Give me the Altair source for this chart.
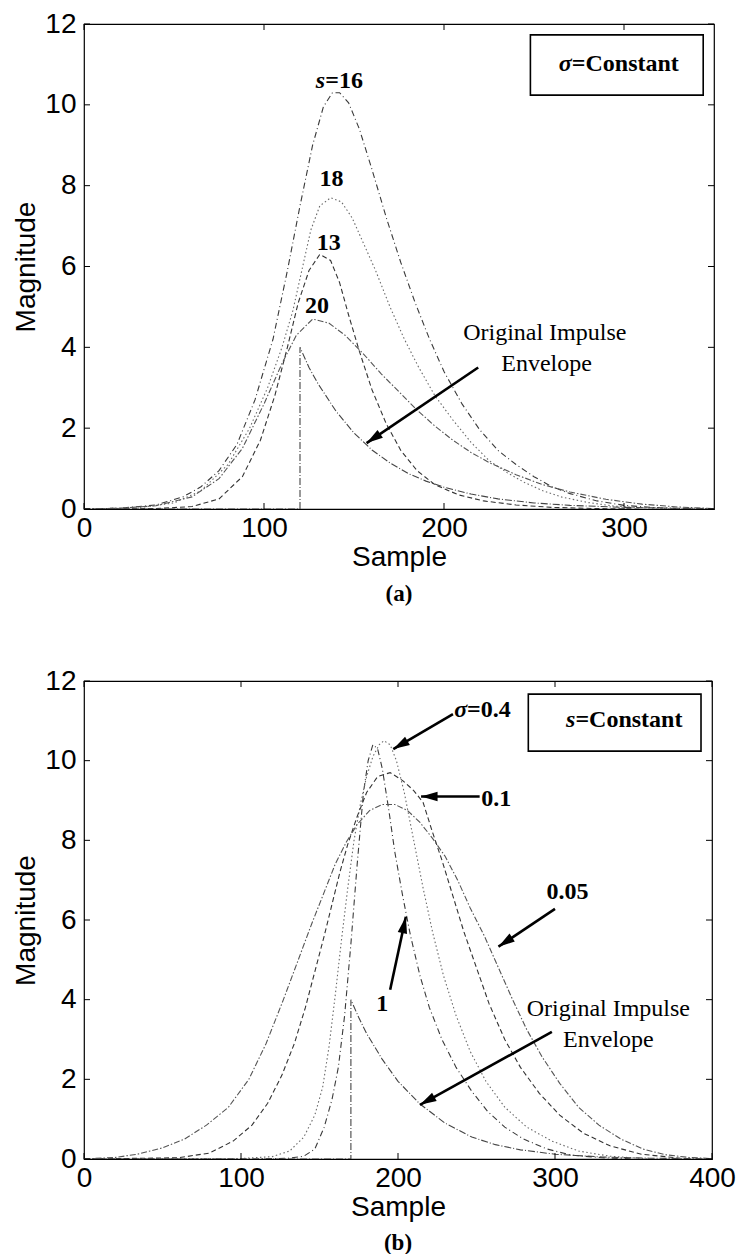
import math
import altair as alt
import pandas as pd

# ---------------- panel (a): sigma constant, scale s varies ----------------
a_s16_x = [0, 20, 40, 55, 65, 75, 85, 95, 105, 113, 120, 127, 133, 138, 142, 147, 153, 160, 168, 176,
           184, 192, 200, 210, 220, 230, 240, 250, 260, 270, 285, 300, 315, 330, 350]
a_s16_y = [0, 0.02, 0.1, 0.3, 0.55, 0.95, 1.6, 2.7, 4.2, 5.9, 7.5, 9.0, 9.95, 10.3, 10.3, 10.05, 9.4, 8.4, 7.2, 6.1,
           5.1, 4.2, 3.4, 2.6, 1.95, 1.45, 1.1, 0.8, 0.55, 0.38, 0.2, 0.09, 0.04, 0.01, 0]

a_s18_x = [0, 30, 50, 65, 80, 92, 102, 110, 116, 121, 126, 131, 137, 143, 149, 155, 162, 170, 178, 186,
           195, 205, 215, 225, 235, 245, 255, 265, 280, 295, 310, 330]
a_s18_y = [0, 0.03, 0.15, 0.45, 1.1, 2.0, 3.0, 4.0, 4.9, 5.9, 6.9, 7.5, 7.7, 7.6, 7.2, 6.6, 5.9, 5.0, 4.2, 3.5,
           2.8, 2.2, 1.65, 1.2, 0.9, 0.65, 0.45, 0.3, 0.16, 0.07, 0.03, 0]

a_s13_x = [0, 40, 60, 75, 88, 98, 106, 113, 119, 125, 131, 137, 142, 147, 153, 160, 168, 176, 185, 195,
           208, 222, 240, 260, 285, 310]
a_s13_y = [0, 0.01, 0.06, 0.25, 0.8, 1.7, 2.8, 4.0, 5.1, 5.9, 6.3, 6.15, 5.6, 4.8, 3.9, 2.95, 2.1, 1.45, 0.95, 0.6,
           0.35, 0.2, 0.1, 0.04, 0.01, 0]

a_s20_x = [0, 20, 40, 60, 75, 88, 100, 110, 118, 127, 136, 145, 155, 165, 175, 185, 195, 205, 215, 225,
           240, 255, 270, 290, 310, 330, 350]
a_s20_y = [0, 0.02, 0.08, 0.3, 0.75, 1.5, 2.6, 3.6, 4.3, 4.7, 4.6, 4.3, 3.85, 3.35, 2.9, 2.45, 2.05, 1.7, 1.4, 1.15,
           0.85, 0.6, 0.42, 0.24, 0.12, 0.05, 0.01]

a_env_x = [0, 120, 120, 125, 130, 140, 150, 160, 170, 180, 190, 200, 215, 230, 250, 270, 300, 330, 350]
a_env_y = [0, 0, 4.0, 3.5, 3.1, 2.42, 1.88, 1.46, 1.14, 0.88, 0.69, 0.54, 0.37, 0.25, 0.15, 0.09, 0.04, 0.02, 0.01]

# ---------------- panel (b): s constant, sigma varies ----------------
b_g1_x = [0, 110, 130, 140, 147, 153, 158, 162, 166, 170, 174, 178, 181, 184, 187, 190, 194, 198, 203, 208,
          214, 220, 228, 237, 247, 257, 268, 280, 295, 310, 330, 350]
b_g1_y = [0, 0, 0.02, 0.07, 0.25, 0.8, 1.5, 2.3, 3.6, 5.4, 7.4, 9.2, 10.0, 10.4, 10.3, 9.8, 8.8, 7.7, 6.6, 5.6,
          4.6, 3.8, 3.0, 2.3, 1.7, 1.2, 0.8, 0.5, 0.25, 0.1, 0.03, 0]

b_g04_x = [0, 100, 120, 131, 140, 147, 152, 156, 160, 164, 168, 172, 176, 180, 184, 188, 191, 195, 199, 204,
           210, 216, 222, 229, 237, 246, 256, 268, 282, 298, 315, 335, 360]
b_g04_y = [0, 0.01, 0.06, 0.2, 0.55, 1.1, 1.8, 2.8, 4.1, 5.5, 6.8, 8.0, 8.9, 9.6, 10.1, 10.4, 10.5, 10.4, 10.0, 9.2,
           8.0, 6.8, 5.7, 4.6, 3.6, 2.7, 1.95, 1.3, 0.8, 0.45, 0.2, 0.07, 0]

b_g01_x = [0, 60, 80, 95, 107, 117, 126, 134, 141, 147, 153, 158, 163, 168, 174, 180, 187, 195, 203, 210,
           216, 222, 228, 235, 242, 250, 258, 268, 278, 290, 303, 318, 335, 355, 380]
b_g01_y = [0, 0.03, 0.15, 0.45, 0.85, 1.4, 2.1, 2.9, 3.8, 4.7, 5.6, 6.4, 7.2, 7.9, 8.6, 9.2, 9.6, 9.7, 9.5, 9.25,
           8.95, 8.2, 7.5, 6.6, 5.7, 4.8, 3.9, 3.0, 2.3, 1.65, 1.1, 0.65, 0.33, 0.12, 0.02]

b_g005_x = [0, 20, 34, 50, 64, 78, 92, 105, 116, 127, 136, 145, 153, 160, 167, 174, 182, 190, 198, 206,
            214, 222, 230, 238, 246, 255, 264, 273, 282, 292, 303, 315, 328, 342, 356, 370, 385, 400]
b_g005_y = [0, 0.04, 0.12, 0.28, 0.5, 0.85, 1.3, 2.0, 2.9, 4.0, 4.95, 5.9, 6.7, 7.4, 7.95, 8.4, 8.75, 8.9, 8.9, 8.75,
            8.45, 8.05, 7.6, 7.0, 6.3, 5.6, 4.8, 4.0, 3.25, 2.55, 1.9, 1.3, 0.85, 0.5, 0.25, 0.11, 0.04, 0.01]

b_env_x = [0, 170, 170, 175, 180, 190, 200, 214, 230, 247, 262, 278, 300, 330, 360, 400]
b_env_y = [0, 0, 4.0, 3.55, 3.15, 2.5, 1.95, 1.38, 0.9, 0.55, 0.36, 0.23, 0.12, 0.05, 0.02, 0.005]

y_ticks = [0, 2, 4, 6, 8, 10, 12]
a_x_ticks = [0, 100, 200, 300]
b_x_ticks = [0, 100, 200, 300, 400]

SANS = "Liberation Sans"
SERIF = "Liberation Serif"
TICK_FONT = 28

STYLES = {
    "s16": ("#3a3a3a", [6, 3, 1, 3]),
    "s18": ("#6a6a6a", [1.5, 2.5]),
    "s13": ("#333333", [5, 3]),
    "s20": ("#555555", [6, 2, 1.5, 2]),
    "envA": ("#444444", [7, 2, 1, 2]),
    "g1": ("#222222", [7, 2, 1.5, 2]),
    "g04": ("#666666", [1.5, 2]),
    "g01": ("#444444", [5, 3]),
    "g005": ("#777777", [1.5, 3]),
    "envB": ("#444444", [8, 2, 1, 2]),
}


def curves_frame(series):
    rows = []
    for name, xs, ys in series:
        for i, (x, y) in enumerate(zip(xs, ys)):
            rows.append({"curve": name, "i": i, "x": x, "y": y})
    return pd.DataFrame(rows)


def arrow_layers(arrows, xs, ys, xscale, yscale):
    """Straight arrows: shaft as a rule, head as a rotated filled triangle at the tip."""
    rows = []
    for (x1, y1, x2, y2) in arrows:
        ang = math.degrees(math.atan2((x2 - x1) * xscale, (y2 - y1) * yscale)) % 360
        rows.append({"x1": x1, "y1": y1, "x2": x2, "y2": y2, "ang": ang})
    df = pd.DataFrame(rows)
    shaft = alt.Chart(df).mark_rule(color="black", strokeWidth=2.6).encode(
        x=alt.X("x1:Q", scale=xs), y=alt.Y("y1:Q", scale=ys), x2="x2:Q", y2="y2:Q")
    head = alt.Chart(df).mark_point(
        shape="M0,0 L0.55,1.9 L-0.55,1.9 Z", filled=True, color="black", opacity=1, size=300
    ).encode(x=alt.X("x2:Q", scale=xs), y=alt.Y("y2:Q", scale=ys), angle=alt.Angle("ang:Q", scale=None))
    return [shaft, head]


def text_layer(rows, xs, ys, **kw):
    df = pd.DataFrame(rows, columns=["x", "y", "t"])
    return alt.Chart(df).mark_text(**kw).encode(
        x=alt.X("x:Q", scale=xs), y=alt.Y("y:Q", scale=ys), text="t:N")


def axis_style(**kw):
    return alt.Axis(domain=False, ticks=False, grid=False, labelFlush=False,
                    labelFont=SANS, labelFontSize=TICK_FONT, labelColor="black",
                    titleFont=SANS, titleFontSize=TICK_FONT, titleFontWeight="normal", titleColor="black",
                    **kw)


def panel(series, xmax, xticks, W, H, label, texts, arrows, box, title_off):
    xs = alt.Scale(domain=[0, xmax], nice=False, zero=False)
    ys = alt.Scale(domain=[0, 12], nice=False)
    df = curves_frame(series)
    names = [s[0] for s in series]
    lines = alt.Chart(df).mark_line(strokeWidth=1.1, clip=True).encode(
        x=alt.X("x:Q", scale=xs, axis=axis_style(values=xticks, title="Sample", labelPadding=5, titlePadding=1)),
        y=alt.Y("y:Q", scale=ys, axis=axis_style(values=y_ticks, title="Magnitude", labelPadding=8,
                                                  titlePadding=4)),
        color=alt.Color("curve:N", scale=alt.Scale(domain=names, range=[STYLES[n][0] for n in names]), legend=None),
        strokeDash=alt.StrokeDash("curve:N", scale=alt.Scale(domain=names, range=[STYLES[n][1] for n in names]),
                                  legend=None),
        detail="curve:N",
        order="i:Q",
    )
    # inward tick marks on all four sides
    tx = pd.DataFrame({"v": xticks})
    ty = pd.DataFrame({"v": y_ticks})
    tk = 6
    ticks = [
        alt.Chart(tx).mark_rule(color="black", strokeWidth=1).encode(
            x=alt.X("v:Q", scale=xs), y=alt.value(H), y2=alt.value(H - tk)),
        alt.Chart(tx).mark_rule(color="black", strokeWidth=1).encode(
            x=alt.X("v:Q", scale=xs), y=alt.value(0), y2=alt.value(tk)),
        alt.Chart(ty).mark_rule(color="black", strokeWidth=1).encode(
            y=alt.Y("v:Q", scale=ys), x=alt.value(0), x2=alt.value(tk)),
        alt.Chart(ty).mark_rule(color="black", strokeWidth=1).encode(
            y=alt.Y("v:Q", scale=ys), x=alt.value(W), x2=alt.value(W - tk)),
    ]
    bx = pd.DataFrame([box[:4]], columns=["x1", "x2", "y1", "y2"])
    frame = alt.Chart(bx).mark_rect(fill="white", stroke="black", strokeWidth=1.6).encode(
        x=alt.X("x1:Q", scale=xs), x2="x2:Q", y=alt.Y("y1:Q", scale=ys), y2="y2:Q")
    layers = [lines] + ticks + [frame]
    for rows, kw in texts:
        layers.append(text_layer(rows, xs, ys, **kw))
    layers += arrow_layers(arrows, xs, ys, W / xmax, H / 12)
    return alt.layer(*layers).properties(
        width=W, height=H,
        title=alt.TitleParams(label, orient="bottom", font=SERIF, fontWeight="bold", fontSize=23,
                              anchor="middle", offset=title_off),
    )


bold = dict(font=SERIF, fontWeight="bold", fontSize=24, baseline="middle")
bold_it = dict(font=SERIF, fontWeight="bold", fontStyle="italic", fontSize=24, baseline="middle")
plain = dict(font=SERIF, fontSize=24, baseline="middle")

panel_a = panel(
    [("s16", a_s16_x, a_s16_y), ("s18", a_s18_x, a_s18_y), ("s13", a_s13_x, a_s13_y),
     ("s20", a_s20_x, a_s20_y), ("envA", a_env_x, a_env_y)],
    350, a_x_ticks, 630, 485, "(a)",
    [
        ([(134, 10.6, "s")], dict(bold_it, align="right")),
        ([(134, 10.6, "=16")], dict(bold, align="left")),
        ([(137.5, 8.16, "18"), (136, 6.58, "13"), (129.5, 5.02, "20")], dict(bold, align="center")),
        ([(271, 11.0, "σ")], dict(bold_it, align="right")),
        ([(271, 11.0, "=Constant")], dict(bold, align="left")),
        ([(256, 4.35, "Original Impulse"), (257, 3.6, "Envelope")], dict(plain, align="center")),
    ],
    [(219, 3.5, 157, 1.63)],
    (248, 344, 10.24, 11.73),
    12,
)

panel_b = panel(
    [("g1", b_g1_x, b_g1_y), ("g04", b_g04_x, b_g04_y), ("g01", b_g01_x, b_g01_y),
     ("g005", b_g005_x, b_g005_y), ("envB", b_env_x, b_env_y)],
    400, b_x_ticks, 628, 478, "(b)",
    [
        ([(244, 11.27, "σ")], dict(bold_it, align="right")),
        ([(244, 11.27, "=0.4")], dict(bold, align="left")),
        ([(253, 9.05, "0.1")], dict(bold, align="left")),
        ([(308, 6.7, "0.05")], dict(bold, align="center")),
        ([(190, 3.9, "1")], dict(bold, align="center")),
        ([(313, 11.02, "s")], dict(bold_it, align="right")),
        ([(313, 11.02, "=Constant")], dict(bold, align="left")),
        ([(334, 3.77, "Original Impulse"), (334, 3.0, "Envelope")], dict(plain, align="center")),
    ],
    [(235, 11.17, 197, 10.29), (252, 9.1, 214.7, 9.1), (300, 6.28, 264, 5.33),
     (195, 4.25, 205, 6.08), (298, 3.19, 214, 1.36)],
    (283, 393, 10.24, 11.67),
    11,
)

chart = alt.vconcat(panel_a, panel_b, spacing=59).properties(
    padding={"left": 12, "top": 9, "right": 4, "bottom": 2},
    background="white",
).configure_view(stroke="black", strokeWidth=1.2)

chart.save("out.html", embed_options={"renderer": "svg", "actions": False})
